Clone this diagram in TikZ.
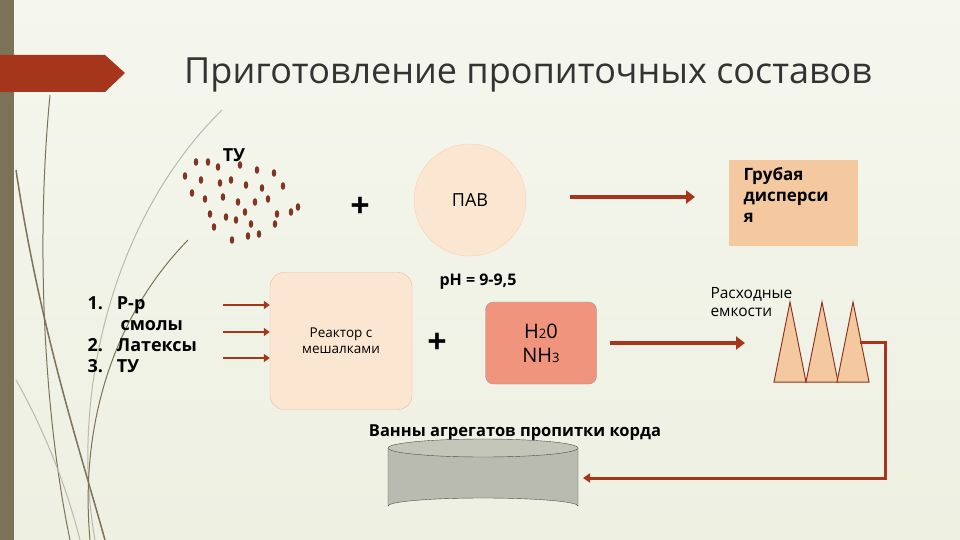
\documentclass[tikz,border=0pt]{standalone}
\usepackage{fontspec}
\setmainfont{Open Sans}
\usetikzlibrary{arrows.meta,shapes.geometric}
\definecolor{bg}{HTML}{EEF0E2}
\definecolor{olive}{HTML}{7A7358}
\definecolor{rust}{HTML}{A5361C}
\definecolor{peach}{HTML}{F5C9A0}
\definecolor{lpeach}{HTML}{FBE6D2}
\definecolor{salmon}{HTML}{F0947E}
\definecolor{dot}{HTML}{8B3520}
\tikzset{
  flow/.style={draw=rust,line width=4pt,-{Triangle[length=9pt,width=13pt]}},
  thin arr/.style={draw=rust,line width=2.5pt,-{Triangle[length=6pt,width=8pt]}},
  lbl/.style={font=\bfseries\fontsize{16}{19}\selectfont,align=left},
  pt/.style={fill=dot,draw=dot!70!black,ellipse,minimum width=4pt,minimum height=7pt,inner sep=0pt},
  grass/.style={draw=olive,line width=1pt}
}
\begin{document}
\begin{tikzpicture}[x=1pt,y=-1pt]
\useasboundingbox (0,0) rectangle (960,540);
\shade[top color=bg!60!white,bottom color=bg] (0,0) rectangle (960,540);
\fill[olive] (0,0) rectangle (14,540);
% grass
\draw[grass] (50,95) .. controls (35,250) and (45,420) .. (70,540);
\draw[grass,line width=1.5pt] (16,170) .. controls (40,330) and (80,450) .. (105,540);
\draw[grass,draw=olive!50,line width=1pt] (222,110) .. controls (110,220) and (70,400) .. (95,540);
\draw[grass,line width=1pt] (188,240) .. controls (110,320) and (80,430) .. (90,540);
\draw[grass,draw=olive!50] (16,380) .. controls (50,440) and (70,500) .. (80,540);
% banner
\fill[rust] (0,55) -- (105,55) -- (125,73) -- (105,92) -- (0,92) -- cycle;
\node[font=\fontsize{36}{40}\selectfont,text=black!80] (title) at (528,75) {Приготовление пропиточных составов};
% particles
\node[lbl,font=\bfseries\fontsize{18}{20}\selectfont] (tu) at (234,155) {ТУ};
\foreach \x/\y [count=\i] in {196/162,208/162,185/176,201/180,218/167,240/165,257/170,274/173,220/183,231/180,246/185,262/188,283/186,192/193,205/199,223/197,238/202,255/202,268/199,298/207,210/214,226/217,245/212,277/214,291/212,214/227,236/220,251/224,275/224,232/240,248/236,259/234}
  \node[pt] (p\i) at (\x,\y) {};
\node[font=\bfseries\fontsize{34}{36}\selectfont] (plus1) at (360,207) {+};
\node[circle,fill=lpeach,draw=lpeach!80!orange,minimum size=112pt,font=\fontsize{18}{20}\selectfont] (pav) at (470,200) {ПАВ};
\node[fill=peach,minimum width=129pt,minimum height=86pt] (gd) at (793,203) {};
\node[lbl,anchor=north west,font=\bfseries\fontsize{17}{21}\selectfont] (gdt) at (740,164) {Грубая\\дисперси\\я};
\coordinate (a1) at (570,197);
\coordinate (a2) at (695,197);
\draw[flow] (a1) -- (a2);
\node[lbl] (ph) at (478,282) {pH = 9-9,5};
% list
\node[lbl,anchor=north west,font=\bfseries\fontsize{18}{21}\selectfont] (lst) at (84,293)
 {1.\hspace{14pt}Р-р\\\hspace{33pt}смолы\\2.\hspace{14pt}Латексы\\3.\hspace{14pt}ТУ};
\node[draw=salmon!70,fill=lpeach,rounded corners=14pt,minimum width=142pt,minimum height=137pt,align=center,font=\fontsize{13.5}{16}\selectfont] (reactor) at (341,341) {Реактор с\\мешалками};
\foreach \y in {305,332,358}
  \draw[thin arr] (223,\y) -- (reactor.west |- 0,\y);
\node[font=\bfseries\fontsize{34}{36}\selectfont] (plus2) at (437,343) {+};
\node[draw=black!40,fill=salmon,rounded corners=8pt,minimum width=111pt,minimum height=82pt,align=center,font=\fontsize{20}{24}\selectfont] (h2o) at (541,343) {H{\fontsize{13}{13}\selectfont 2}0\\NH{\fontsize{13}{13}\selectfont 3}};
\coordinate (b1) at (610,343);
\coordinate (tank) at (745,343);
\draw[flow] (b1) -- (tank);
\node[anchor=west,align=left,font=\fontsize{15.5}{18}\selectfont] (rash) at (707,302) {Расходные\\емкости};
\foreach \c in {790,822,853}
  \draw[draw=dot,fill=peach,line width=1pt] (\c-16,382) -- (\c,302) -- (\c+16,382) -- cycle;
\coordinate (c1) at (860,342);
\coordinate (c2) at (885,342);
\coordinate (c3) at (885,478);
\coordinate (c4) at (583,478);
\draw[draw=rust,line width=3pt,-{Triangle[length=7pt,width=9pt]}] (c1) -- (c2) -- (c3) -- (c4);
\node[lbl,font=\bfseries\fontsize{16.5}{19}\selectfont] (vann) at (515,433) {Ванны агрегатов пропитки корда};
% cylinder
\fill[black!22!bg,draw=black!70] (388,448) -- (388,506) arc[start angle=180,end angle=360,x radius=95,y radius=8] -- (578,448);
\draw[fill=black!18!bg,draw=black!70] (483,448) ellipse[x radius=95,y radius=9];
\end{tikzpicture}
\end{document}
